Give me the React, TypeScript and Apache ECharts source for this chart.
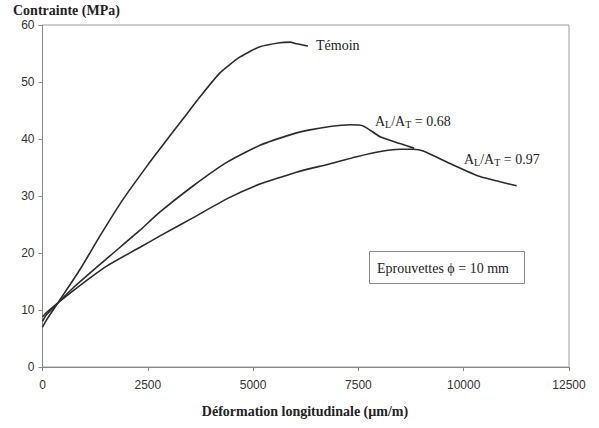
import React, { useEffect, useRef } from "react";
import * as echarts from "echarts";

const temoinStrain = [0, 100, 415, 890, 1365, 1919, 2554, 2790, 3343, 3740, 4214, 4690, 5163, 5638, 5875, 6035, 6300];
const temoinStress = [7.0, 8.3, 11.8, 17.1, 23.0, 29.5, 36.0, 38.3, 43.6, 47.4, 51.6, 54.4, 56.2, 56.9, 57.0, 56.7, 56.3];

const r068Strain = [0, 100, 731, 1524, 2315, 2790, 3580, 4373, 5163, 5954, 6350, 6826, 7300, 7616, 8013, 8488, 8820];
const r068Stress = [8.0, 9.2, 13.9, 19.0, 24.0, 27.2, 31.8, 35.9, 38.9, 40.9, 41.6, 42.2, 42.5, 42.3, 40.4, 39.2, 38.4];

const r097Strain = [0, 100, 731, 1524, 2315, 2790, 3580, 4373, 5163, 5954, 6350, 6747, 7459, 8091, 8488, 8803, 9040, 9674, 10386, 10861, 11257];
const r097Stress = [8.8, 9.6, 13.4, 17.7, 21.0, 23.0, 26.2, 29.5, 32.1, 34.0, 34.8, 35.5, 36.9, 37.9, 38.2, 38.2, 37.9, 35.7, 33.4, 32.5, 31.8];

const xTicks = [0, 2500, 5000, 7500, 10000, 12500];
const yTicks = [0, 10, 20, 30, 40, 50, 60];

const pairs = (xs: number[], ys: number[]) => xs.map((x, i) => [x, ys[i]]);

export default function App() {
  const ref = useRef<HTMLDivElement>(null);
  useEffect(() => {
    if (!ref.current) return;
    const chart = echarts.init(ref.current, undefined, { renderer: "svg" });
    const serif = "'Liberation Serif', 'Times New Roman', serif";
    const sans = "'Liberation Sans', Arial, sans-serif";
    const lineStyle = { color: "#2b2b2b", width: 1.6 };
    const mkSeries = (name: string, xs: number[], ys: number[]) => ({
      name,
      type: "line",
      data: pairs(xs, ys),
      showSymbol: false,
      symbol: "none",
      smooth: 0.2,
      lineStyle,
    });
    const rich = {
      n: { fontFamily: serif, fontSize: 14, color: "#222", lineHeight: 18 },
      s: { fontFamily: serif, fontSize: 10, color: "#222", lineHeight: 18, padding: [7, 0, 0, 0] },
    };
    chart.setOption({
      animation: false,
      backgroundColor: "#fff",
      grid: {
        left: 42.5,
        right: 30,
        top: 25,
        bottom: 61,
        show: true,
        borderColor: "#9a9a9a",
        borderWidth: 1,
        outerBoundsMode: "none",
      },
      xAxis: {
        type: "value",
        min: xTicks[0],
        max: xTicks[xTicks.length - 1],
        interval: 2500,
        axisLine: { show: true, lineStyle: { color: "#888", width: 1 } },
        axisTick: { show: true, length: 4, lineStyle: { color: "#888" } },
        axisLabel: { fontFamily: sans, fontSize: 12, color: "#333", margin: 12, formatter: (v: number) => String(v) },
        splitLine: { show: false },
      },
      yAxis: {
        type: "value",
        min: yTicks[0],
        max: yTicks[yTicks.length - 1],
        interval: 10,
        axisLine: { show: true, lineStyle: { color: "#888", width: 1 } },
        axisTick: { show: true, length: 4, lineStyle: { color: "#888" } },
        axisLabel: { fontFamily: sans, fontSize: 12, color: "#333", margin: 8, formatter: (v: number) => String(v) },
        splitLine: { show: false },
      },
      series: [
        mkSeries("Témoin", temoinStrain, temoinStress),
        mkSeries("AL/AT = 0.68", r068Strain, r068Stress),
        mkSeries("AL/AT = 0.97", r097Strain, r097Stress),
      ],
      graphic: [
        {
          type: "text",
          left: 13,
          top: 3,
          style: { text: "Contrainte (MPa)", fontFamily: serif, fontWeight: "bold", fontSize: 14, fill: "#222" },
        },
        {
          type: "text",
          x: 305,
          y: 411,
          style: {
            text: "Déformation longitudinale (µm/m)",
            fontFamily: serif,
            fontWeight: "bold",
            fontSize: 14,
            fill: "#222",
            align: "center",
            verticalAlign: "middle",
          },
        },
        {
          type: "text",
          x: 316,
          y: 45,
          style: { text: "Témoin", fontFamily: serif, fontSize: 14, fill: "#222", verticalAlign: "middle" },
        },
        {
          type: "text",
          x: 375,
          y: 112,
          style: { text: "{n|A}{s|L}{n|/A}{s|T}{n| = 0.68}", rich, fill: "#222" },
        },
        {
          type: "text",
          x: 464,
          y: 150,
          style: { text: "{n|A}{s|L}{n|/A}{s|T}{n| = 0.97}", rich, fill: "#222" },
        },
        {
          type: "rect",
          shape: { x: 369.5, y: 251.5, width: 155, height: 32 },
          style: { fill: "#fff", stroke: "#8a8a8a", lineWidth: 1 },
        },
        {
          type: "text",
          x: 377,
          y: 268,
          style: {
            text: "Eprouvettes \u03d5 = 10 mm",
            fontFamily: serif,
            fontSize: 14,
            fill: "#222",
            verticalAlign: "middle",
          },
        },
      ],
    });
    return () => chart.dispose();
  }, []);
  return <div ref={ref} style={{ width: 599, height: 428, position: "absolute", left: 0, top: 0 }} />;
}
